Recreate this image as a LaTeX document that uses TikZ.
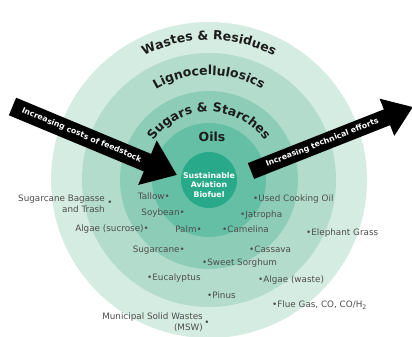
\documentclass[tikz,border=0pt]{standalone}
\usepackage{fontspec}
\setmainfont{DejaVu Sans}
\usetikzlibrary{decorations.text, arrows.meta}
\definecolor{ringA}{HTML}{D5ECE3}
\definecolor{ringB}{HTML}{B3DCCD}
\definecolor{ringC}{HTML}{8DCDB8}
\definecolor{ringD}{HTML}{65BFA4}
\definecolor{core}{HTML}{28A98A}
\definecolor{labelgray}{HTML}{4D4D4D}
\definecolor{titleink}{HTML}{1C1C1C}
\begin{document}
\begin{tikzpicture}[x=1pt,y=1pt,
  feed/.style={font=\fontsize{8.8}{10.5}\selectfont, text=labelgray, inner sep=0pt},
  feedR/.style={feed, anchor=east},
  feedL/.style={feed, anchor=west},
  arrowtext/.style={font=\bfseries\fontsize{7.8}{9}\selectfont, text=white, inner sep=0pt},
  coretext/.style={font=\bfseries\fontsize{7.8}{9.5}\selectfont, text=white, align=center, inner sep=0pt},
  layertitle/.style={font=\bfseries\fontsize{12.5}{12.5}\selectfont, text=titleink, inner sep=0pt}
]
\useasboundingbox (0,0) rectangle (412,337);
\clip (0,0) rectangle (412,337);
\fill[white] (0,0) rectangle (412,337);
\coordinate (C) at (209,157);
\fill[ringA] (C) circle[radius=158pt];
\fill[ringB] (C) circle[radius=127pt];
\fill[ringC] (C) circle[radius=89pt];
\fill[ringD] (C) circle[radius=57pt];
\fill[core] (C) circle[radius=28pt];

% layer titles along arcs
\path[decorate, decoration={text along path, text align=center, text format delimiters={|}{|},
  text={|\bfseries\fontsize{12.5}{12.5}\selectfont\color{titleink}|Wastes {\&} Residues}}]
  ([shift={(C)}]170:140pt) arc[start angle=170, end angle=10, radius=140pt];
\path[decorate, decoration={text along path, text align=center, text format delimiters={|}{|},
  text={|\bfseries\fontsize{12.5}{12.5}\selectfont\color{titleink}|Lignocellulosics}}]
  ([shift={(C)}]170:105pt) arc[start angle=170, end angle=10, radius=105pt];
\path[decorate, decoration={text along path, text align=center, text format delimiters={|}{|},
  text={|\bfseries\fontsize{12.5}{12.5}\selectfont\color{titleink}|Sugars {\&} Starches}}]
  ([shift={(C)}]175:68pt) arc[start angle=175, end angle=5, radius=68pt];
\node[layertitle] (oils) at (212,200) {Oils};

% arrows
\coordinate (tailL) at (12.5,230.5);
\coordinate (tipL) at (177,162);
\coordinate (tailR) at (251,166);
\coordinate (tipR) at (413,230);
\draw[black, line width=19pt, -{Triangle[width=46pt,length=32pt]}] (tailL) -- (tipL);
\draw[black, line width=17pt, -{Triangle[width=38pt,length=28pt]}] (tailR) -- (tipR);
\path (tailL) -- (tipL) node[pos=0.42, sloped, arrowtext] (costs) {Increasing costs of feedstock};
\path (tailR) -- (tipR) node[pos=0.44, sloped, arrowtext] (efforts) {Increasing technical efforts};

% core
\node[coretext] (saf) at (209,152) {Sustainable\\Aviation\\Biofuel};

% feedstock labels
\node[feedR] (tallow) at (170,141) {Tallow•};
\node[feed, anchor=east, align=right] (bagasse) at (105,133) {Sugarcane Bagasse\\and Trash};
\node[feed] (bagdot) at (110,134) {•};
\node[feedR] (soy) at (185,124) {Soybean•};
\node[feedR] (algs) at (149,108) {Algae (sucrose)•};
\node[feedR] (palm) at (202,108) {Palm•};
\node[feedL] (camelina) at (222,108) {•Camelina};
\node[feedL] (uco) at (253,138) {•Used Cooking Oil};
\node[feedL] (jatropha) at (240,122) {•Jatropha};
\node[feedL] (elephant) at (306,104) {•Elephant Grass};
\node[feedR] (sugarcane) at (185,87) {Sugarcane•};
\node[feedL] (cassava) at (249,88) {•Cassava};
\node[feedL] (sorghum) at (202,74) {•Sweet Sorghum};
\node[feedL] (eucalyptus) at (147,59) {•Eucalyptus};
\node[feedL] (algw) at (258,57) {•Algae (waste)};
\node[feedL] (pinus) at (207,42) {•Pinus};
\node[feedL] (flue) at (272,32) {•Flue Gas, CO, CO/H\textsubscript{2}};
\node[feed, anchor=east, align=right] (msw) at (203,15) {Municipal Solid Wastes\\(MSW)};
\node[feed] (mswdot) at (207,14) {•};
\end{tikzpicture}
\end{document}
